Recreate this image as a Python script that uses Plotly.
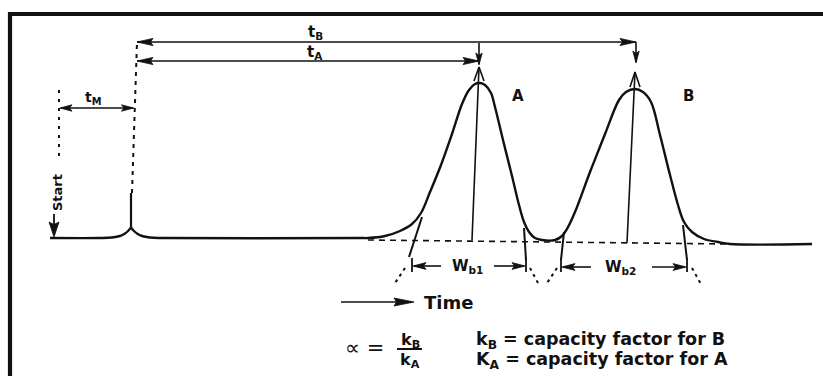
import math
import plotly.graph_objects as go

# ---------------------------------------------------------------------------
# Chromatogram data: time in chart units, detector response above baseline
# ---------------------------------------------------------------------------
time_pre = [50, 100, 112, 120, 125, 128.5, 131]
resp_pre = [0, 0, 0.5, 2, 4.5, 7.5, 10.5]

time_post = [131, 133.5, 137, 142, 150, 162,
             360, 368, 385, 400, 412, 421, 430, 441, 452, 462,
             469, 475, 480, 485, 491, 495, 503, 512, 519, 524,
             529, 535, 542, 555, 562, 567, 575, 590, 605, 619,
             626, 635, 643, 651, 660, 670, 678, 684, 692, 704,
             718, 730, 812]
resp_post = [10.5, 7.5, 4.5, 2, 0.5, 0,
             0, 0, 2, 7, 14, 25, 46, 73, 104, 134,
             148, 154, 155, 153, 145, 131, 98, 62, 33, 16,
             6, 0, -2, -2, 2, 9, 26, 66, 104, 138,
             146, 149, 146, 136, 103, 63, 33, 16, 6, -1,
             -4, -6, -6]

# unretained (injection) spike
spike_time = 131
spike_top = 45

# characteristic times
t_start = 59
t_m = 134.5
t_a = 479
t_b = 636

# base-width tangent intersections
wb1 = (412, 526)
wb2 = (561, 687)

# extrapolated baseline under the peaks
base_time = [368, 730]
base_resp = [-2, -6]

INK = "#111111"
FONT = "DejaVu Sans"
X_RANGE = [0, 823]
Y_RANGE = [-138, 238]

fig = go.Figure()


def line(xs, ys, width=1.6, dash=None, shape="linear"):
    fig.add_trace(go.Scatter(
        x=xs, y=ys, mode="lines",
        line=dict(color=INK, width=width, dash=dash, shape=shape),
        hoverinfo="skip", showlegend=False))


def head(tx, ty, dx, dy, length=13, half=3.6, notch=2.5):
    """Filled, slightly notched arrowhead with its tip at (tx, ty)."""
    n = math.hypot(dx, dy)
    ux, uy = dx / n, dy / n
    px, py = -uy, ux
    bx, by = tx - length * ux, ty - length * uy
    nx, ny = tx - (length - notch) * ux, ty - (length - notch) * uy
    xs = [tx, bx + half * px, nx, bx - half * px, tx]
    ys = [ty, by + half * py, ny, by - half * py, ty]
    fig.add_trace(go.Scatter(
        x=xs, y=ys, mode="lines", fill="toself", fillcolor=INK,
        line=dict(color=INK, width=0.8),
        hoverinfo="skip", showlegend=False))


def label(x, y, text, size=14, bold=True, angle=0, xanchor="center"):
    fig.add_annotation(
        x=x, y=y, text=text, showarrow=False, textangle=angle,
        xanchor=xanchor, yanchor="middle",
        font=dict(family=FONT, size=size, color=INK,
                  weight="bold" if bold else "normal"))


# page frame: left and top edges (the others run off the page)
line([10, 10, X_RANGE[1]], [Y_RANGE[0], 224, 224], width=4.2)

# chromatogram trace (split at the injection cusp so it stays sharp)
line(time_pre, resp_pre, width=2.4, shape="spline")
line(time_post, resp_post, width=2.4, shape="spline")
line([spike_time, spike_time], [resp_pre[-1], spike_top], width=2.2)

# extrapolated baseline
line(base_time, base_resp, width=1.6, dash="6px,5px")

# start marker and dead-time marker
line([t_start, t_start], [148, 80], width=2, dash="3px,6px")
line([spike_time + 1, t_m + 2.5], [spike_top, 196], width=2, dash="4px,5px")

# t_M span
line([t_start + 2, t_m - 1], [130, 130])
head(t_start + 1, 130, -1, 0, length=12, half=3.2)
head(t_m - 1, 130, 1, 0, length=12, half=3.2)

# t_B span with drop to peak B
line([t_m + 2.5, t_b], [196, 196])
head(t_m + 2.5, 196, -1, 0, length=16, half=3.6)
head(t_b, 196, 1, 0, length=16, half=3.6)
line([t_b, t_b], [196, 176])
head(t_b, 175, 0, -1, length=12, half=3.2)
line([t_b - 6, t_b - 1, t_b + 4], [151, 166, 151], width=1.6)
line([t_b - 1, t_b - 9], [166, base_resp[1] + 1], width=1.6)

# t_A span with drop to peak A
line([t_m + 2.5, t_a], [177, 177])
head(t_m + 2.5, 177, -1, 0, length=16, half=3.6)
head(t_a, 177, 1, 0, length=16, half=3.6)
line([t_a, t_a], [195, 174])
head(t_a, 173, 0, -1, length=12, half=3.2)
line([t_a - 5, t_a, t_a + 5], [157, 171, 157], width=1.6)
line([t_a, t_a - 7], [171, -2], width=1.6)

# tangents through the inflection points, carried below the baseline
line([422, 409], [21, -19], width=2)
line([405, 395], [-30, -45], width=2, dash="3px,4px")
line([wb1[0], wb1[0]], [-20, -34], width=1.8)

line([524, wb1[1]], [10, -22], width=2)
line([wb1[1], wb1[1]], [-20, -34], width=1.8)
line([530, 538], [-30, -45], width=2, dash="3px,4px")

line([564, wb2[0]], [6, -22], width=2)
line([wb2[0], wb2[0]], [-20, -34], width=1.8)
line([557, 547], [-30, -45], width=2, dash="3px,4px")

line([683, wb2[1]], [13, -22], width=2)
line([wb2[1], wb2[1]], [-20, -34], width=1.8)
line([692, 702], [-30, -48], width=2, dash="3px,4px")

# base-width arrows
line([441, wb1[0] + 2], [-28, -28])
head(wb1[0] + 1, -28, -1, 0, length=13, half=3.4)
line([494, wb1[1] - 2], [-28, -28])
head(wb1[1] - 1, -28, 1, 0, length=13, half=3.4)
line([591, wb2[0] + 2], [-29, -29])
head(wb2[0] + 1, -29, -1, 0, length=13, half=3.4)
line([652, wb2[1] - 2], [-29, -29])
head(wb2[1] - 1, -29, 1, 0, length=13, half=3.4)

# start arrow
line([54, 54], [24, 4], width=1.8)
head(54, 1, 0, -1, length=15, half=5)

# time direction arrow
line([341, 412], [-64, -64], width=1.6)
head(414, -64, 1, 0, length=20, half=4)

# ratio fraction bar
line([397, 422], [-111, -111], width=2)

# text
label(315, 206, "t<sub>B</sub>", size=15)
label(315, 186, "t<sub>A</sub>", size=15)
label(93, 140, "t<sub>M</sub>", size=14)
label(518, 142, "A", size=15)
label(688, 142, "B", size=15)
label(57, 45, "Start", size=13, angle=-90)
label(467, -28, "W<sub>b1</sub>", size=15)
label(620, -29, "W<sub>b2</sub>", size=15)
label(422, -64, "Time", size=18, xanchor="left")
label(364, -110, "∝ =", size=21, bold=False)
label(410, -102, "k<sub>B</sub>", size=16)
label(410, -122, "k<sub>A</sub>", size=16)
label(474, -102, "k<sub>B</sub> = capacity factor for B", size=17.5, xanchor="left")
label(474, -122, "K<sub>A</sub> = capacity factor for A", size=17.5, xanchor="left")

fig.update_layout(
    width=823, height=376,
    margin=dict(l=0, r=0, t=0, b=0, pad=0),
    paper_bgcolor="white", plot_bgcolor="white",
    xaxis=dict(range=X_RANGE, visible=False, fixedrange=True),
    yaxis=dict(range=Y_RANGE, visible=False, fixedrange=True),
    showlegend=False,
)

fig.write_html("out.html")
